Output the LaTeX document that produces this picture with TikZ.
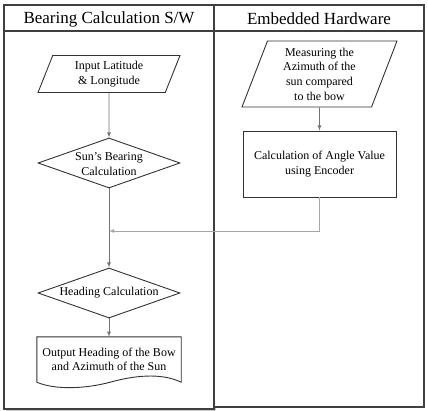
\documentclass[tikz,border=0pt]{standalone}
\usepackage{fontspec}
\setmainfont{Liberation Serif}
\usepackage{tikz}
\usetikzlibrary{shapes.geometric}

\begin{document}
\begin{tikzpicture}[x=1pt,y=-1pt]
\tikzstyle{every node}+=[inner sep=0pt]
\tikzstyle{lane}=[draw=black!75,line width=1.6pt]
\tikzstyle{head}=[font=\fontsize{17}{20}\selectfont]
\tikzstyle{txt}=[align=center,font=\fontsize{12}{14.6}\selectfont]
\tikzstyle{io}=[draw=black!80,line width=0.9pt,trapezium,trapezium stretches body,txt]
\tikzstyle{decision}=[draw=black!80,line width=0.9pt,diamond,minimum width=142pt,minimum height=50pt]
\tikzstyle{process}=[draw=black!80,line width=0.9pt,rectangle,txt]
\tikzstyle{flow}=[draw=black!55,line width=0.8pt,-latex]
\useasboundingbox (0,0) rectangle (428,411);
% swim lanes
\fill [black!20] (6,408) rectangle (216,411);
\draw [lane] (214,5) rectangle (424,407);
\draw [lane] (4,5) rectangle (214,409);
\draw [lane] (4,31) -- (424,31);
\node [head] (hsw) at (109,19) {Bearing Calculation S/W};
\node [head] (hhw) at (319,19) {Embedded Hardware};
% software lane
\node [io,trapezium left angle=60,trapezium right angle=120,minimum width=142pt,minimum height=37pt] (latlon) at (109,74) {Input Latitude\\\& Longitude};
\node [decision] (bearing) at (109,163) {};
\node [txt] (bearingtxt) at (109,164) {Sun's Bearing\\Calculation};
\coordinate (join) at (109,231);
\node [decision] (heading) at (109,293) {};
\node [txt] (headingtxt) at (109,293) {Heading Calculation};
\node [txt,minimum width=144pt,minimum height=45pt] (output) at (109,359.5) {Output Heading of the Bow\\and Azimuth of the Sun};
\draw [black!80,line width=0.9pt] (output.south west) -- (output.north west) -- (output.north east) -- (output.south east)
  .. controls (164,374) and (140,374) .. (111,382) .. controls (85,389) and (55,390) .. (output.south west);
% hardware lane
\node [io,trapezium left angle=64,trapezium right angle=116,minimum width=155pt,minimum height=66pt] (azimuth) at (319.5,74) {Measuring the\\Azimuth of the\\sun compared\\to the bow};
\node [process,minimum width=153pt,minimum height=66pt] (encoder) at (319.5,164) {Calculation of Angle Value\\using Encoder};
% connectors
\draw [flow] (latlon) -- (bearing);
\draw [flow] (bearing) -- (heading);
\draw [flow] (heading) -- (output);
\draw [flow] (azimuth) -- (encoder);
\draw [flow,draw=black!35] (encoder) -- (encoder.south |- join) -- (join);
\end{tikzpicture}
\end{document}
